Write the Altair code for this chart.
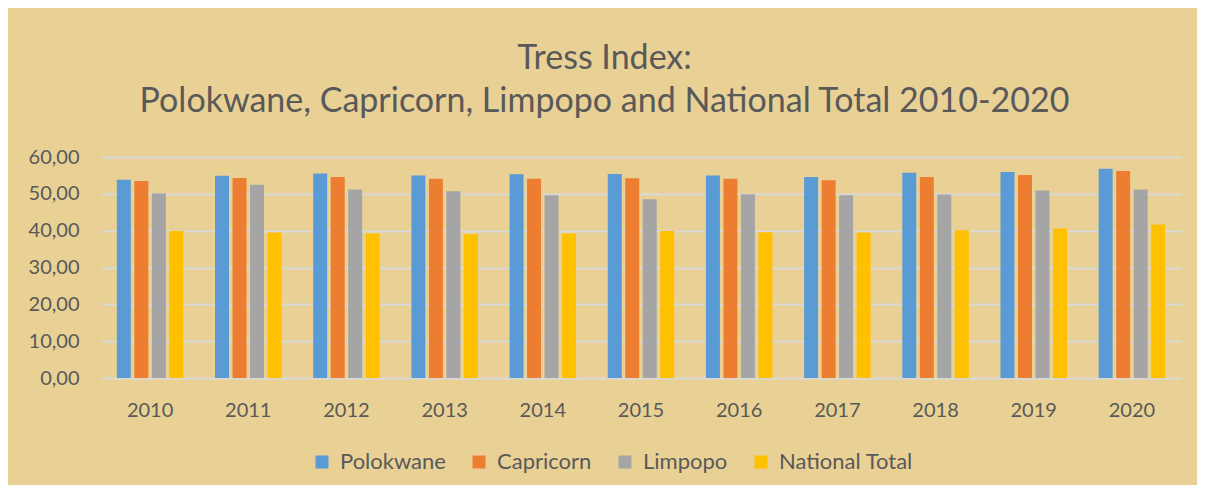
import altair as alt
import pandas as pd

years = ["2010", "2011", "2012", "2013", "2014", "2015", "2016", "2017", "2018", "2019", "2020"]
polokwane = [53.8, 54.9, 55.5, 55.0, 55.3, 55.4, 55.0, 54.6, 55.7, 55.9, 56.8]
capricorn = [53.5, 54.3, 54.6, 54.1, 54.1, 54.2, 54.1, 53.7, 54.6, 55.1, 56.2]
limpopo = [50.1, 52.5, 51.2, 50.7, 49.6, 48.5, 49.9, 49.6, 49.8, 50.9, 51.2]
national = [39.9, 39.5, 39.2, 39.0, 39.2, 39.9, 39.6, 39.5, 40.1, 40.6, 41.7]

series = ["Polokwane", "Capricorn", "Limpopo", "National Total"]
colors = ["#5B9BD5", "#ED7D31", "#A5A5A5", "#FFC000"]

rows = []
for name, vals in zip(series, [polokwane, capricorn, limpopo, national]):
    for y, v in zip(years, vals):
        rows.append({"Year": y, "Series": name, "Value": v})
df = pd.DataFrame(rows)

FONT = "Lato"
TXT = "#595959"

chart = alt.Chart(df).mark_bar().encode(
    x=alt.X("Year:N", sort=years, title=None,
            scale=alt.Scale(paddingInner=0.287, paddingOuter=0.1435),
            axis=alt.Axis(labelAngle=0, domain=False, ticks=False, labelPadding=22,
                          labelFontSize=20, labelColor=TXT, labelFont=FONT)),
    xOffset=alt.XOffset("Series:N", sort=series,
                        scale=alt.Scale(paddingInner=0.2, paddingOuter=0.1)),
    y=alt.Y("Value:Q", title=None,
            scale=alt.Scale(domain=[0, 60], nice=False),
            axis=alt.Axis(values=[0, 10, 20, 30, 40, 50, 60], domain=False, ticks=False,
                          labelPadding=22, labelFontSize=20, labelColor=TXT, labelFont=FONT,
                          gridColor="#D9D9D9", gridWidth=2,
                          labelExpr="replace(format(datum.value, '.2f'), '.', ',')")),
    color=alt.Color("Series:N", sort=series,
                    scale=alt.Scale(domain=series, range=colors),
                    legend=alt.Legend(title=None, orient="none", direction="horizontal",
                                      legendX=210, legendY=294, columns=4,
                                      symbolType="square", symbolSize=169, symbolStrokeWidth=0,
                                      labelFontSize=22, labelColor=TXT, labelFont=FONT,
                                      labelOffset=7, columnPadding=22, padding=0)),
).properties(
    width=1080,
    height=221,
    title=alt.TitleParams(
        text=["Tress Index:", "Polokwane, Capricorn, Limpopo and National Total 2010-2020"],
        font=FONT, fontSize=34, fontWeight="normal", color=TXT,
        anchor="middle", frame="bounds", lineHeight=43, offset=28),
    autosize=alt.AutoSizeParams(type="none"),
    padding={"left": 93, "top": 149, "right": 16, "bottom": 107},
    background="#E9D196",
).configure_view(stroke=None)

chart.save("out.html", embed_options={"renderer": "svg", "actions": False})
